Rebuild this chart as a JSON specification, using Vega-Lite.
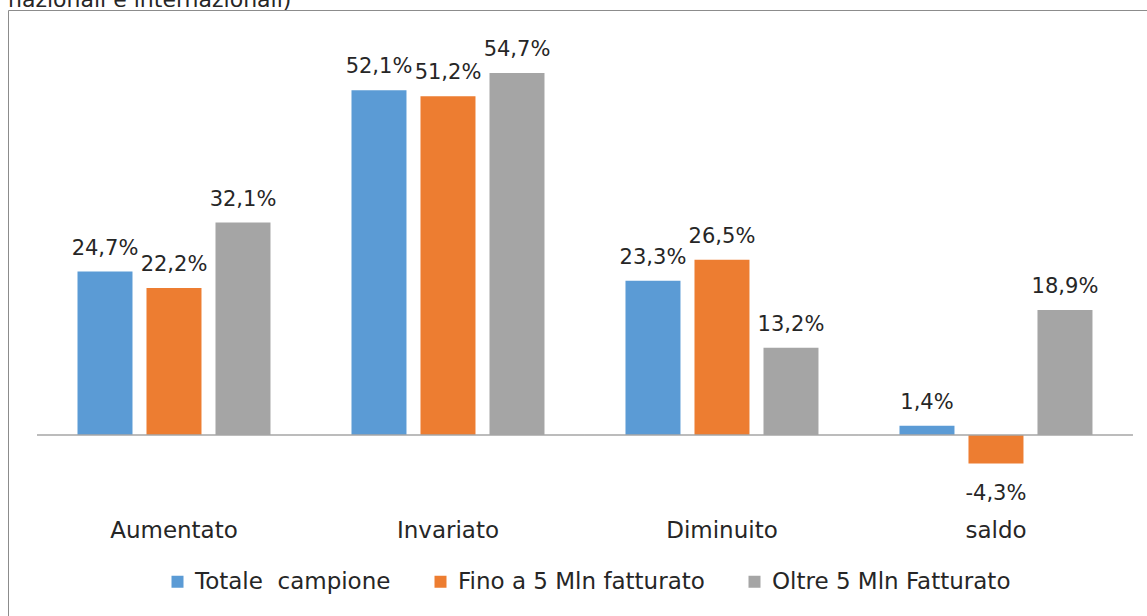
{
  "$schema": "https://vega.github.io/schema/vega-lite/v6.json",
  "width": 1139,
  "height": 606,
  "autosize": "none",
  "padding": {"left": 8, "top": 10, "right": 0, "bottom": 0},
  "background": "white",
  "config": {
    "view": {"stroke": null},
    "font": "DejaVu Sans",
    "locale": {"number": {"decimal": ",", "thousands": ".", "grouping": [3], "currency": ["", " €"], "minus": "-"}}
  },
  "title": {
    "text": "nazionali e internazionali)",
    "anchor": "start",
    "fontSize": 22,
    "fontWeight": "normal",
    "color": "#262626",
    "baseline": "alphabetic",
    "offset": -19
  },
  "data": {
    "values": [
      {"cat": "Aumentato", "serie": "Totale\u00a0 campione", "v": 0.247},
      {"cat": "Aumentato", "serie": "Fino a 5 Mln fatturato", "v": 0.222},
      {"cat": "Aumentato", "serie": "Oltre 5 Mln Fatturato", "v": 0.321},
      {"cat": "Invariato", "serie": "Totale\u00a0 campione", "v": 0.521},
      {"cat": "Invariato", "serie": "Fino a 5 Mln fatturato", "v": 0.512},
      {"cat": "Invariato", "serie": "Oltre 5 Mln Fatturato", "v": 0.547},
      {"cat": "Diminuito", "serie": "Totale\u00a0 campione", "v": 0.233},
      {"cat": "Diminuito", "serie": "Fino a 5 Mln fatturato", "v": 0.265},
      {"cat": "Diminuito", "serie": "Oltre 5 Mln Fatturato", "v": 0.132},
      {"cat": "saldo", "serie": "Totale\u00a0 campione", "v": 0.014},
      {"cat": "saldo", "serie": "Fino a 5 Mln fatturato", "v": -0.043},
      {"cat": "saldo", "serie": "Oltre 5 Mln Fatturato", "v": 0.189}
    ]
  },
  "encoding": {
    "x": {
      "field": "cat",
      "type": "nominal",
      "sort": ["Aumentato", "Invariato", "Diminuito", "saldo"],
      "scale": {"paddingInner": 0, "paddingOuter": 0.0785, "align": 0.674},
      "axis": {
        "orient": "bottom",
        "title": null,
        "domain": false,
        "ticks": false,
        "labelAngle": 0,
        "labelFontSize": 23,
        "labelColor": "#262626",
        "labelPadding": 3,
        "offset": -100
      }
    },
    "y": {
      "field": "v",
      "type": "quantitative",
      "scale": {"domain": [-0.2735, 0.6422], "nice": false, "zero": false},
      "axis": {
        "orient": "left",
        "title": null,
        "labels": false,
        "ticks": false,
        "domain": true,
        "domainColor": "#8c8c8c",
        "domainWidth": 1,
        "grid": true,
        "gridColor": "#8c8c8c",
        "gridWidth": 1,
        "values": [0.6422]
      }
    }
  },
  "layer": [
    {
      "mark": {"type": "bar"},
      "encoding": {
        "xOffset": {
          "field": "serie",
          "type": "nominal",
          "sort": ["Totale\u00a0 campione", "Fino a 5 Mln fatturato", "Oltre 5 Mln Fatturato"],
          "scale": {"paddingInner": 0.203, "paddingOuter": 0.587}
        },
        "color": {
          "field": "serie",
          "type": "nominal",
          "scale": {
            "domain": ["Totale\u00a0 campione", "Fino a 5 Mln fatturato", "Oltre 5 Mln Fatturato"],
            "range": ["#5B9BD5", "#ED7D31", "#A5A5A5"]
          },
          "legend": {
            "orient": "none",
            "legendX": 158,
            "legendY": 560,
            "direction": "horizontal",
            "title": null,
            "symbolType": "square",
            "symbolSize": 144,
            "symbolStrokeWidth": 0,
            "labelFontSize": 23,
            "labelColor": "#262626",
            "labelOffset": 6,
            "columnPadding": 38,
            "labelLimit": 400
          }
        }
      }
    },
    {
      "transform": [{"filter": "datum.serie == 'Fino a 5 Mln fatturato'"}],
      "mark": {"type": "rule", "color": "#a6a6a6", "strokeWidth": 1.5},
      "encoding": {
        "x": {"field": "cat", "type": "nominal", "sort": ["Aumentato", "Invariato", "Diminuito", "saldo"], "bandPosition": 0},
        "x2": {"field": "cat", "bandPosition": 1},
        "y": {"datum": 0, "type": "quantitative"}
      }
    },
    {
      "transform": [{"filter": "datum.v >= 0"}],
      "mark": {"type": "text", "baseline": "alphabetic", "dy": -17, "fontSize": 21, "color": "#262626"},
      "encoding": {
        "xOffset": {
          "field": "serie",
          "type": "nominal",
          "sort": ["Totale\u00a0 campione", "Fino a 5 Mln fatturato", "Oltre 5 Mln Fatturato"]
        },
        "text": {"field": "v", "type": "quantitative", "format": ".1%"}
      }
    },
    {
      "transform": [{"filter": "datum.v < 0"}],
      "mark": {"type": "text", "baseline": "alphabetic", "dy": 37, "fontSize": 21, "color": "#262626"},
      "encoding": {
        "xOffset": {
          "field": "serie",
          "type": "nominal",
          "sort": ["Totale\u00a0 campione", "Fino a 5 Mln fatturato", "Oltre 5 Mln Fatturato"]
        },
        "text": {"field": "v", "type": "quantitative", "format": ".1%"}
      }
    }
  ]
}
